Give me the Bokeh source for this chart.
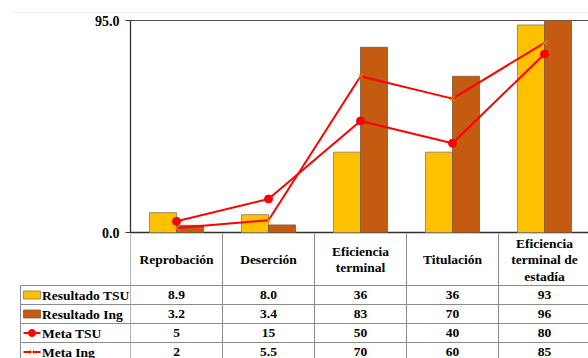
import numpy as np
from bokeh.plotting import figure
from bokeh.models import Range1d, FixedTicker, PrintfTickFormatter, LinearAxis
from bokeh.core.properties import value
from bokeh.embed import file_html
from bokeh.resources import INLINE

# --- data -------------------------------------------------------------
categories = ["Reprobación", "Deserción", "Eficiencia\nterminal", "Titulación",
              "Eficiencia\nterminal de\nestadía"]
resultado_tsu = [8.9, 8.0, 36, 36, 93]
resultado_ing = [3.2, 3.4, 83, 70, 96]
meta_tsu = [5, 15, 50, 40, 80]
meta_ing = [2, 5.5, 70, 60, 85]
series_names = ["Resultado TSU", "Resultado Ing", "Meta TSU", "Meta Ing"]
y_ticks = [0, 95]

# --- geometry & styling -------------------------------------------------
GOLD = "#FFC000"
BROWN = "#C55A11"
RED = "#FF0000"
FONT = value("Liberation Serif")
W, H = 588, 358
LEFT, TOP, AXIS_Y = 130, 20, 232      # plot area edges (pixels)
CAT_PX = 92.0                          # width of one category column
BAR_W = 27 / CAT_PX
n = len(categories)
centers = [i + 0.5 for i in range(n)]
y_min, y_max = y_ticks[0], y_ticks[-1]


def tx(px):
    """pixel column -> category x coordinate"""
    return (px - LEFT) / CAT_PX


def ty(py):
    """pixel row -> value y coordinate"""
    return y_min + (AXIS_Y - py) * (y_max - y_min) / (AXIS_Y - TOP)


x_end = tx(W)
p = figure(width=W, height=H, x_range=Range1d(tx(0), x_end),
           y_range=Range1d(ty(H), ty(0)), output_backend="svg",
           toolbar_location=None, x_axis_location=None, y_axis_location=None,
           min_border=0)
p.extra_y_ranges = {"tbl": Range1d(H, 0)}   # table drawn in pixel rows
p.outline_line_color = None
p.xgrid.visible = False
p.ygrid.visible = False
p.background_fill_color = "white"
p.border_fill_color = "white"
T = dict(y_range_name="tbl")

# faint chart-area border along the top
p.segment(x0=[tx(10)], y0=[12], x1=[x_end], y1=[12],
          line_color="#efefef", line_width=1, **T)

# value axis pinned to the left edge of the plot area
ax = LinearAxis(fixed_location=0, bounds=(y_min, y_max))
ax.ticker = FixedTicker(ticks=y_ticks)
ax.formatter = PrintfTickFormatter(format="%.1f")
ax.major_label_text_font = "Liberation Serif"
ax.major_label_text_font_style = "bold"
ax.major_label_text_font_size = "14px"
ax.major_label_text_color = "black"
ax.axis_line_color = "#303030"
ax.axis_line_width = 1.3
ax.major_tick_line_color = "#303030"
ax.major_tick_out = 5
ax.major_tick_in = 0
ax.minor_tick_line_color = None
ax.major_label_standoff = 6
p.add_layout(ax, "left")

# plot area top border and category baseline
p.segment(x0=[0, 0], y0=[y_max, y_min], x1=[x_end, x_end], y1=[y_max, y_min],
          line_color=["#505050", "#303030"], line_width=[1.2, 1.3])

# bars (clipped at the axis maximum like the plot area does)
tsu_x = [c - BAR_W / 2 for c in centers]
ing_x = [c + BAR_W / 2 for c in centers]
p.vbar(x=tsu_x, width=BAR_W, top=np.minimum(resultado_tsu, y_max), bottom=0,
       fill_color=GOLD, line_color="#8a7a55", line_width=0.8)
p.vbar(x=ing_x, width=BAR_W, top=np.minimum(resultado_ing, y_max), bottom=0,
       fill_color=BROWN, line_color="#7a5a40", line_width=0.8)

# target lines
p.line(centers, meta_tsu, line_color=RED, line_width=2)
p.scatter(centers, meta_tsu, marker="circle", size=8,
          fill_color=RED, line_color=RED)
p.line(centers, meta_ing, line_color=RED, line_width=2)
p.scatter(centers, meta_ing, marker="x", size=7,
          line_color="#FF9900", line_width=1)

# --- data table below the plot area --------------------------------------
HEAD_BOTTOM = 285           # bottom of header row
ROW = 19                    # data row height
LEG_LEFT = 20               # left edge of the legend column
grid_color = "#8c8c8c"

# vertical separators between categories
for i in range(n + 1):
    p.segment(x0=[i], y0=[AXIS_Y + 1], x1=[i], y1=[H + 5],
              line_color="#b4b4b4" if i == 0 else grid_color, line_width=1, **T)
# legend column left edge
p.segment(x0=[tx(LEG_LEFT)], y0=[HEAD_BOTTOM], x1=[tx(LEG_LEFT)], y1=[H + 5],
          line_color=grid_color, line_width=1, **T)
# horizontal row separators
row_tops = [HEAD_BOTTOM + k * ROW for k in range(len(series_names))]
p.segment(x0=[tx(LEG_LEFT)] * len(row_tops), y0=row_tops,
          x1=[x_end] * len(row_tops), y1=row_tops,
          line_color=grid_color, line_width=1, **T)

# header category labels, one text per line
head_mid = (AXIS_Y + HEAD_BOTTOM) / 2 + 0.5
LINE = 16.5
hx, hy, ht = [], [], []
for c, label in zip(centers, categories):
    lines = label.split("\n")
    for k, ln in enumerate(lines):
        hx.append(c)
        hy.append(head_mid + (k - (len(lines) - 1) / 2) * LINE)
        ht.append(ln)
p.text(x=hx, y=hy, text=ht, text_font=FONT, text_font_style="bold",
       text_font_size="13.5px", text_align="center", text_baseline="middle",
       text_color="black", **T)

# values
rows = [resultado_tsu, resultado_ing, meta_tsu, meta_ing]
fmts = [lambda v: f"{v:.1f}" if v < 10 else f"{v:.0f}",
        lambda v: f"{v:.1f}" if v < 10 else f"{v:.0f}",
        lambda v: f"{v:g}",
        lambda v: f"{v:g}"]
for r, (vals, fmt) in enumerate(zip(rows, fmts)):
    yc = HEAD_BOTTOM + r * ROW + ROW / 2
    p.text(x=centers, y=[yc] * n, text=[fmt(v) for v in vals], text_font=FONT,
           text_font_style="bold", text_font_size="13.5px", text_align="center",
           text_baseline="middle", text_color="black", **T)

# legend keys and series names
kx0, kx1 = tx(23), tx(40)
kxm = (kx0 + kx1) / 2
for r, name in enumerate(series_names):
    yc = HEAD_BOTTOM + r * ROW + ROW / 2
    if r < 2:
        p.quad(left=kx0, right=kx1, top=yc - 4, bottom=yc + 4,
               fill_color=[GOLD, BROWN][r],
               line_color=["#8a7a55", "#7a5a40"][r], line_width=0.8, **T)
    else:
        p.segment(x0=[kx0], y0=[yc], x1=[kx1], y1=[yc], line_color=RED,
                  line_width=2, **T)
        if r == 2:
            p.scatter([kxm], [yc], marker="circle", size=7, fill_color=RED,
                      line_color=RED, **T)
        else:
            p.scatter([kxm], [yc], marker="x", size=6, line_color="#FF9900",
                      line_width=1, **T)
    p.text(x=[tx(41.5)], y=[yc], text=[name], text_font=FONT,
           text_font_style="bold", text_font_size="13.5px", text_align="left",
           text_baseline="middle", text_color="black", **T)

open("out.html", "w").write(file_html(p, INLINE))
